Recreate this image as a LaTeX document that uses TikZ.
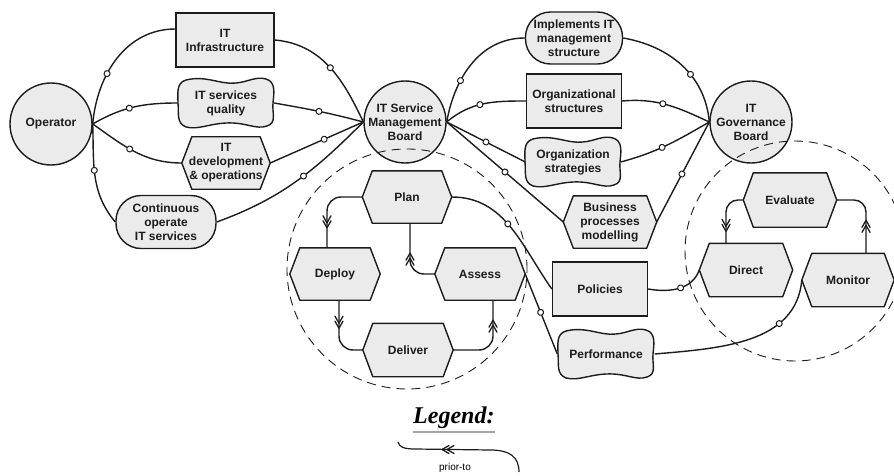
\documentclass[tikz,border=0pt]{standalone}
\usepackage{fontspec}
\setmainfont{Liberation Sans}
\newfontfamily\serifbi{Liberation Serif}
\usetikzlibrary{decorations.markings,backgrounds}

\definecolor{ink}{HTML}{1C1C1C}
\definecolor{shade}{HTML}{EBEBEB}

\tikzset{
  txt/.style={font=\bfseries\fontsize{12}{14}\selectfont, text=ink, align=center},
  bx/.style 2 args={minimum width=#1pt, minimum height=#2pt},
  ball/.style={txt, circle, draw=ink, fill=shade, line width=1.4pt, minimum size=82pt, inner sep=0pt},
  crate/.style={txt, rectangle, draw=ink, fill=shade, line width=1.4pt, inner sep=0pt},
  pill/.style={crate, rounded corners=25pt},
  bare/.style={txt, rectangle, inner sep=0pt},
  rim/.style={draw=ink, fill=shade, line width=1.4pt, line join=round},
  link/.style={draw=ink, line width=1.4pt},
  tie/.style={postaction={decorate, decoration={markings,
      mark=at position #1 with {\draw[ink, fill=white, line width=1pt] (0,0) circle (3pt);}}}},
  twohead/.pic={\draw[ink, line width=1.3pt, line cap=round, line join=round]
      (-2pt,4pt) -- (5pt,0pt) -- (-2pt,-4pt)
      (-7pt,4pt) -- (0pt,0pt) -- (-7pt,-4pt);},
  orbit/.style={draw=ink, line width=0.9pt, dash pattern=on 9pt off 6pt},
}

% hexagon outline around a bare node
\newcommand\hexrim[1]{\path[rim] (#1.west) -- ([xshift=10pt]#1.north west) -- ([xshift=-10pt]#1.north east)
  -- (#1.east) -- ([xshift=-10pt]#1.south east) -- ([xshift=10pt]#1.south west) -- cycle;}
% wavy pillow outline around a bare node
\newcommand\waverim[1]{\path[rim, shift={(#1.center)}]
  (-40,23) .. controls (-20,28) and (-5,18) .. (10,20) .. controls (22,21) and (30,27) .. (40,24)
  .. controls (50,21) and (48,10) .. (47,0) .. controls (46,-10) and (51,-20) .. (41,-23)
  .. controls (30,-27) and (20,-19) .. (0,-20) .. controls (-18,-21) and (-28,-27) .. (-40,-24)
  .. controls (-50,-20) and (-47,-10) .. (-48,0) .. controls (-48,10) and (-50,20) .. (-40,23) -- cycle;}

\begin{document}
\begin{tikzpicture}[x=1pt,y=1pt]
\useasboundingbox (0,0) rectangle (894,-476);

% ---- elements
\node[ball] (op) at (51,-124) {Operator};
\node[crate, bx={98}{54}] (infra) at (225,-40) {IT\\Infrastructure};
\node[bare, bx={96}{49}] (quality) at (226,-103) {IT services\\quality};
\node[bare, bx={88}{52}] (devops) at (226,-163) {IT\\development\\\& operations};
\node[pill, bx={100}{53}] (contops) at (166,-222) {Continuous\\operate\\IT services};
\node[ball] (ismb) at (405,-122) {IT Service\\Management\\Board};
\node[pill, bx={97}{52}] (impl) at (574,-38) {Implements IT\\management\\structure};
\node[crate, bx={95}{54}] (orgstruct) at (574,-101) {Organizational\\structures};
\node[bare, bx={95}{50}] (orgstrat) at (573,-162) {Organization\\strategies};
\node[bare, bx={93}{52}] (bpm) at (610,-222) {Business\\processes\\modelling};
\node[ball] (itgb) at (751,-122) {IT\\Governance\\Board};
\node[bare, bx={89}{52}] (plan) at (407,-197) {Plan};
\node[bare, bx={90}{52}] (deploy) at (335,-274) {Deploy};
\node[bare, bx={90}{52}] (assess) at (480,-274) {Assess};
\node[bare, bx={90}{53}] (deliver) at (408,-350) {Deliver};
\node[crate, bx={95}{54}] (policies) at (600,-289) {Policies};
\node[bare, bx={97}{52}] (perf) at (606,-354) {Performance};
\node[bare, bx={93}{54}] (evaluate) at (790,-200) {Evaluate};
\node[bare, bx={93}{53}] (direct) at (746,-270) {Direct};
\node[bare, bx={92}{53}] (monitor) at (848,-280) {Monitor};

\begin{scope}[on background layer]
  \foreach \h in {devops,bpm,plan,deploy,assess,deliver,evaluate,direct,monitor} {\hexrim{\h}}
  \foreach \w in {quality,orgstrat,perf} {\waverim{\w}}
\end{scope}

% ---- associations
\path[link, tie=0.38] (op.east) to[out=85,in=180] ([yshift=11pt]infra.west);
\path[link, tie=0.45] (op.east) to[out=30,in=180] (quality.west);
\path[link, tie=0.45] (op.east) to[out=-35,in=180] (devops.west);
\path[link, tie=0.45] (op.east) to[out=-88,in=130] (contops.west);

\path[link, tie=0.5] (infra.east) to[out=-5,in=115] (ismb.west);
\path[link, tie=0.5] (quality.east) to[out=-10,in=165] (ismb.west);
\path[link, tie=0.58] (devops.east) -- (ismb.west);
\path[link, tie=0.55] (contops.east) to[out=20,in=225] (ismb.west);

\path[link, tie=0.35] (ismb.east) to[out=80,in=180] (impl.west);
\path[link, tie=0.45] (ismb.east) to[out=40,in=180] (orgstruct.west);
\path[link, tie=0.5] (ismb.east) -- (orgstrat.west);
\path[link, tie=0.5] (ismb.east) -- (bpm.west);

\path[link, tie=0.6] (impl.east) to[out=-10,in=95] (itgb.west);
\path[link, tie=0.45] (orgstruct.east) to[out=5,in=155] (itgb.west);
\path[link, tie=0.45] (orgstrat.east) to[out=15,in=210] (itgb.west);
\path[link, tie=0.48] (bpm.east) -- (itgb.west);

\path[link, tie=0.45] (plan.east) to[out=0,in=125] (policies.west);
\path[link, tie=0.48] (assess.east) -- (perf.west);
\path[link, tie=0.55] (policies.east) to[out=-10,in=-110] (direct.west);
\path[link, tie=0.72] (perf.east) to[out=5,in=-95] (monitor.west);

% ---- prior-to cycles
\path[link, rounded corners=14pt] (plan.west) -| ([xshift=-8pt]deploy.north);
\pic[rotate=-90] at ([xshift=-8pt,yshift=25pt]deploy.north) {twohead};
\path[link, rounded corners=14pt] ([xshift=4pt]deploy.south) |- (deliver.west);
\pic[rotate=-90] at ([xshift=4pt,yshift=-23pt]deploy.south) {twohead};
\path[link, rounded corners=14pt] (deliver.east) -| ([xshift=13pt]assess.south);
\pic[rotate=90] at ([xshift=13pt,yshift=-25pt]assess.south) {twohead};
\path[link, rounded corners=14pt] (assess.west) -| ([xshift=3pt]plan.south);
\pic[rotate=90] at ([xshift=3pt,yshift=-35pt]plan.south) {twohead};
\path[link, rounded corners=12pt] (evaluate.west) -| ([xshift=-20pt]direct.north);
\pic[rotate=-90] at ([xshift=-20pt,yshift=17pt]direct.north) {twohead};
\path[link, rounded corners=12pt] ([xshift=18pt]monitor.north) |- (evaluate.east);
\pic[rotate=90] at ([xshift=18pt,yshift=28pt]monitor.north) {twohead};

% ---- groupings
\draw[orbit] (407,-269) circle (120pt);
\draw[orbit] (795,-251) circle (110pt);

% ---- legend
\node[font=\serifbi\bfseries\itshape\fontsize{24}{28}\selectfont, text=black, anchor=base west, inner sep=0pt] (legend) at (413,-423) {Legend:};
\draw[gray!70, line width=1.8pt] ([yshift=-9pt]legend.base west) -- ([yshift=-9pt]legend.base east);
\coordinate (lgA) at (398,-442);
\coordinate (lgB) at (519,-472);
\coordinate (lgHead) at (447,-449.5);
\path[link, line width=1.2pt] (lgB) .. controls (519,-457) and (510,-450) .. (490,-450)
  -- (415,-449) .. controls (404,-449) and (399,-447) .. (lgA);
\pic[rotate=180] at (lgHead) {twohead};
\node[font=\fontsize{10}{12}\selectfont, text=black] (priortxt) at (455,-468) {prior-to};
\end{tikzpicture}
\end{document}
